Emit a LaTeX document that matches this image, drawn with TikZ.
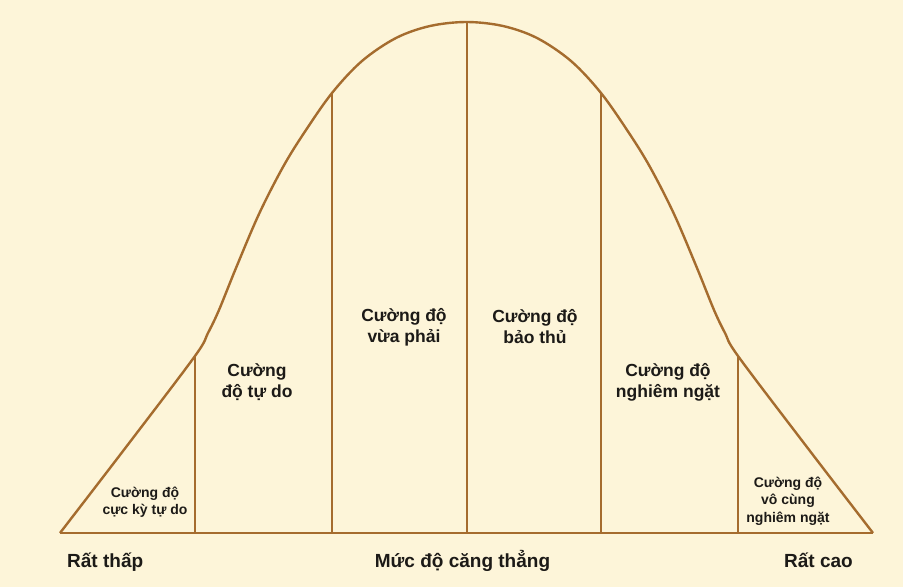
\documentclass[tikz,border=0pt]{standalone}
\usepackage{fontspec}
\setmainfont{Liberation Sans}
\definecolor{bgc}{HTML}{FDF5D9}
\definecolor{linec}{HTML}{A56C2E}
\definecolor{txtc}{HTML}{1C1A17}
\begin{document}
\begin{tikzpicture}[x=1pt,y=-1pt,
  curve/.style={draw=linec,line width=2.4pt,line join=round},
  divider/.style={draw=linec,line width=2pt},
  midlabel/.style={text=txtc,font=\bfseries\fontsize{17.5}{21}\selectfont,align=center,inner sep=0pt},
  smalllabel/.style={text=txtc,font=\bfseries\fontsize{14}{17.5}\selectfont,align=center,inner sep=0pt},
  axislabel/.style={text=txtc,font=\bfseries\fontsize{19}{22}\selectfont,inner sep=0pt}]
\fill[bgc] (0,0) rectangle (903,587);
\useasboundingbox (0,0) rectangle (903,587);
% base line end points and divider tops
\coordinate (L) at (60,533);
\coordinate (R) at (873,533);
\coordinate (t1) at (195,356);
\coordinate (t2) at (332,93);
\coordinate (t3) at (466.5,22);
\coordinate (t4) at (601,93);
\coordinate (t5) at (738,356);
\coordinate (b1) at (195,533);
\coordinate (b2) at (332,533);
\coordinate (b3) at (466.5,533);
\coordinate (b4) at (601,533);
\coordinate (b5) at (738,533);
% dividers
\draw[divider] (b1) -- (t1);
\draw[divider] (b2) -- (t2);
\draw[divider] (b3) -- (t3);
\draw[divider] (b4) -- (t4);
\draw[divider] (b5) -- (t5);
% baseline
\draw[curve] (L) -- (R);
% bell curve
\draw[curve] plot[smooth,tension=0.55] coordinates {
 (60,533) (128,444.5) (195,356) (208,333) (219,310) (236,268) (259,214)
 (283,167) (304,133) (332,93) (362,61) (396,38) (430,26) (466.5,22)
 (503,26) (537,38) (571,61) (601,93) (629,133) (650,167) (674,214)
 (697,268) (714,310) (725,333) (738,356) (805,444.5) (873,533)};
% labels
\node[smalllabel] (l1) at (145,502) {Cường độ\\cực kỳ tự do};
\node[midlabel] (l2) at (257,382) {Cường\\độ tự do};
\node[midlabel] (l3) at (404,327) {Cường độ\\vừa phải};
\node[midlabel] (l4) at (535,327) {Cường độ\\bảo thủ};
\node[midlabel] (l5) at (668,382) {Cường độ\\nghiêm ngặt};
\node[smalllabel] (l6) at (788,501) {Cường độ\\vô cùng\\nghiêm ngặt};
\node[axislabel,anchor=base west] (a1) at (67,567) {Rất thấp};
\node[axislabel,anchor=base] (a2) at (462.5,567) {Mức độ căng thẳng};
\node[axislabel,anchor=base east] (a3) at (853,567) {Rất cao};
\end{tikzpicture}
\end{document}
